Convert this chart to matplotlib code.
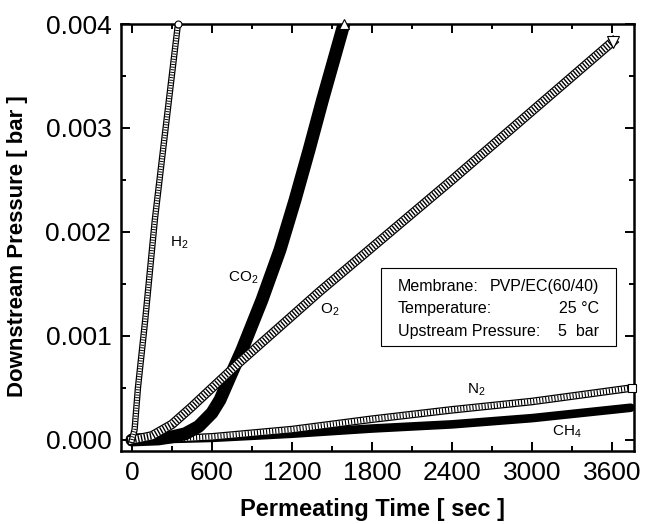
import numpy as np
import matplotlib.pyplot as plt
from matplotlib.ticker import MultipleLocator, FormatStrFormatter
from matplotlib.patches import Rectangle

plt.rcParams['font.family'] = ['Liberation Sans', 'DejaVu Sans']
plt.rcParams['mathtext.fontset'] = 'custom'
plt.rcParams['mathtext.rm'] = 'Liberation Sans'
plt.rcParams['lines.scale_dashes'] = False

# permeation curves (time in sec, pressure in bar)
t_h2 = [0, 20, 45, 100, 172, 260, 345]
p_h2 = [0, 0.0001, 0.0005, 0.00116, 0.00212, 0.00308, 0.0040]

t_co2 = [0, 200, 300, 400, 500, 600, 660, 740, 825, 975, 1110, 1223, 1328, 1429, 1590]
p_co2 = [0, 0.00001, 0.00003, 0.00006, 0.00013, 0.00026, 0.000385, 0.00062, 0.000865,
         0.001346, 0.001827, 0.002308, 0.002788, 0.003269, 0.0040]

t_o2 = [0, 150, 300, 450, 600, 810, 1410, 2400, 3605]
p_o2 = [0, 0.00004, 0.00015, 0.00032, 0.0005, 0.00075, 0.00143, 0.00250, 0.00383]

t_n2 = [0, 300, 600, 1200, 1800, 2400, 3000, 3750]
p_n2 = [0, 0.00001, 0.00003, 0.0001, 0.0002, 0.00029, 0.00037, 0.0005]

t_ch4 = [0, 600, 1200, 1800, 2400, 3000, 3740]
p_ch4 = [0, 0.00002, 0.00006, 0.00011, 0.00015, 0.00021, 0.00031]

info_left = ['Membrane:', 'Temperature:', 'Upstream Pressure:']
info_right = ['PVP/EC(60/40)', '25 \u00b0C', '5  bar']


def hatched(ax, t, p, w, dash, z):
    # thick open-marker look: black outline, white core, black stripes
    ax.plot(t, p, color='k', lw=w, solid_joinstyle='round', zorder=z)
    ax.plot(t, p, color='w', lw=w - 1.8, solid_joinstyle='round', zorder=z)
    ax.plot(t, p, color='k', lw=w - 1.8, linestyle=(0, dash),
            dash_capstyle='butt', zorder=z)


fig = plt.figure(figsize=(6.45, 5.24), dpi=100)
ax = fig.add_axes([121/645, 1 - 451/524, 513/645, 427/524])

ax.plot(t_ch4, p_ch4, color='k', lw=6.2, solid_capstyle='round', zorder=2)
hatched(ax, t_n2, p_n2, 5.5, (0.8, 1.4), 3)
ax.plot(t_n2[-1], p_n2[-1], 's', ms=6, mfc='w', mec='k', mew=0.8, zorder=3, clip_on=False)
ax.plot(t_co2, p_co2, color='k', lw=9.3, solid_capstyle='round', zorder=4)
ax.plot(t_co2[-1], p_co2[-1], '^', ms=7, mfc='w', mec='k', mew=0.8, zorder=4, clip_on=False)
hatched(ax, t_o2, p_o2, 6.8, (1.0, 1.2), 5)
ax.plot(t_o2[-1], p_o2[-1], 'v', ms=8, mfc='w', mec='k', mew=0.8, zorder=5, clip_on=False)
hatched(ax, t_h2, p_h2, 4.6, (0.7, 1.2), 6)
ax.plot(t_h2[-1], p_h2[-1], 'o', ms=5, mfc='w', mec='k', mew=0.8, zorder=6, clip_on=False)

ax.text(285, 0.0019, r'H$_\mathregular{2}$', fontsize=11, va='center')
ax.text(720, 0.00156, r'CO$_\mathregular{2}$', fontsize=11, va='center')
ax.text(1410, 0.00125, r'O$_\mathregular{2}$', fontsize=11, va='center')
ax.text(2513, 0.00048, r'N$_\mathregular{2}$', fontsize=11, va='center')
ax.text(3150, 0.000077, r'CH$_\mathregular{4}$', fontsize=11, va='center')

ax.add_patch(Rectangle((0.507, 0.246), 0.458, 0.183, transform=ax.transAxes,
                       fill=False, ec='k', lw=0.8, zorder=7))
for i, (a, b) in enumerate(zip(info_left, info_right)):
    y = 0.386 - i*0.053
    ax.text(0.54, y, a, transform=ax.transAxes, fontsize=11.5, va='center')
    ax.text(0.932, y, b, transform=ax.transAxes, fontsize=11.5, va='center', ha='right')

ax.set_xlim(-82, 3765)
ax.set_ylim(-0.000106, 0.004)
ax.xaxis.set_major_locator(MultipleLocator(600))
ax.xaxis.set_minor_locator(MultipleLocator(300))
ax.yaxis.set_major_locator(MultipleLocator(0.001))
ax.yaxis.set_minor_locator(MultipleLocator(0.0005))
ax.yaxis.set_major_formatter(FormatStrFormatter('%.3f'))
ax.tick_params(which='both', direction='in', top=True, right=True, width=1.4)
ax.tick_params(which='major', length=6.5, labelsize=19, pad=7)
ax.tick_params(which='minor', length=3.5)
for s in ax.spines.values():
    s.set_linewidth(1.8)

ax.set_xlabel('Permeating Time [ sec ]', fontsize=17, fontweight='bold')
ax.set_ylabel('Downstream Pressure [ bar ]', fontsize=16, fontweight='bold')
ax.xaxis.set_label_coords(0.491, -0.109)
ax.yaxis.set_label_coords(-0.182, 0.48)

plt.savefig('out.png', dpi=100)
